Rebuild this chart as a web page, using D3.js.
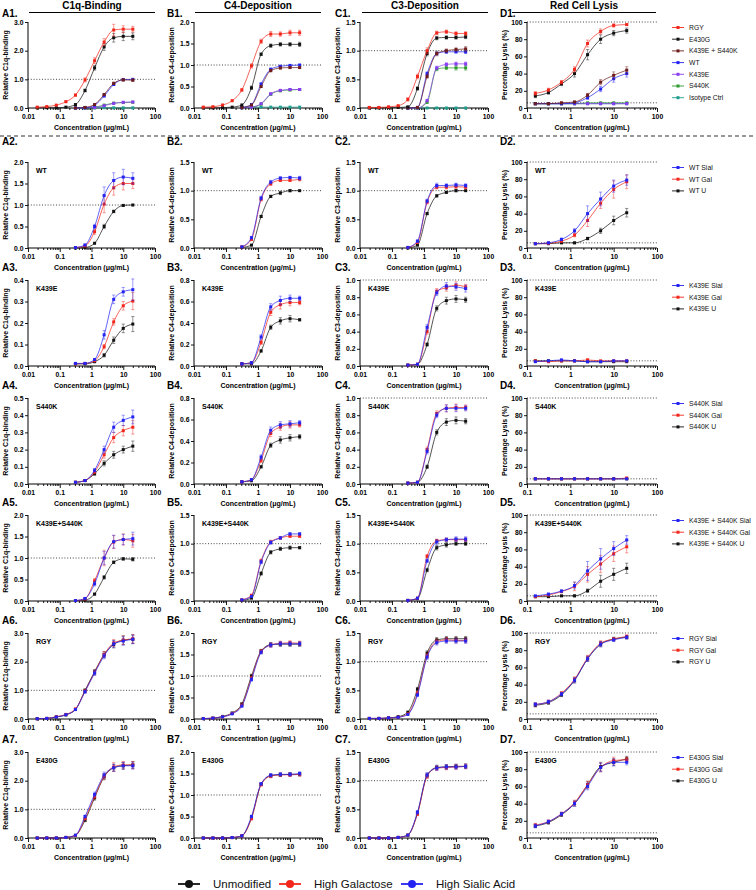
<!DOCTYPE html>
<html><head><meta charset="utf-8">
<script src="https://cdn.jsdelivr.net/npm/d3@7"></script>
<style>body{margin:0;background:#fff} svg{display:block} text{font-family:"Liberation Sans",Arial,sans-serif}</style>
</head><body><svg id="c" width="756" height="890"></svg>
<script>
// ---------- concentrations (µg/mL) ----------
const conc11 = [0.0195,0.039,0.078,0.156,0.3125,0.625,1.25,2.5,5,10,20];
const conc8  = [0.156,0.3125,0.625,1.25,2.5,5,10,20];
const conc7  = [0.3125,0.625,1.25,2.5,5,10,20];

// ---------- text ----------
const headers = ["C1q-Binding","C4-Deposition","C3-Deposition","Red Cell Lysis"];
const yTitles = ["Relative C1q-binding","Relative C4-deposition","Relative C3-deposition","Percentage Lysis (%)"];
const xTitle = "Concentration (\u03bcg/mL)";
const colLetters = ["A","B","C","D"];
const xTickLabels = {0.01:"0.01",0.1:"0.1",1:"1",10:"10",100:"100"};

// ---------- row 1 (all variants) ----------
const row1Names = ["RGY","E430G","K439E + S440K","WT","K439E","S440K","Isotype Ctrl"];
// values as [mean, error]
const A1_RGY = [[0.03,0.01],[0.05,0.01],[0.1,0.02],[0.22,0.03],[0.45,0.04],[0.98,0.07],[1.65,0.1],[2.3,0.12],[2.72,0.2],[2.75,0.12],[2.75,0.1]];
const A1_E430G = [[0,0.005],[0.01,0.005],[0.01,0.005],[0.03,0.01],[0.12,0.02],[0.61,0.05],[1.4,0.08],[2.13,0.12],[2.45,0.15],[2.5,0.15],[2.5,0.12]];
const A1_KESK = [[0,0.005],[0.02,0.01],[0.12,0.02],[0.47,0.04],[0.86,0.04],[0.98,0.04],[0.97,0.04]];
const A1_WT = [[0,0.005],[0.01,0.005],[0.1,0.02],[0.42,0.03],[0.82,0.03],[0.99,0.03],[1.0,0.02]];
const A1_K439E = [[0,0.003],[0.005,0.003],[0.02,0.005],[0.08,0.01],[0.16,0.02],[0.2,0.02],[0.21,0.02]];
const A1_S440K = [[0,0.003],[0.005,0.003],[0.03,0.005],[0.1,0.01],[0.17,0.02],[0.19,0.02],[0.2,0.02]];
const A1_Iso = [[0,0],[0,0],[0,0],[0.01,0.003],[0.005,0.003],[0.005,0.003],[0.005,0.003]];

const B1_RGY = [[0.02,0.01],[0.03,0.01],[0.07,0.01],[0.17,0.02],[0.42,0.03],[0.98,0.05],[1.55,0.05],[1.72,0.06],[1.72,0.05],[1.75,0.06],[1.75,0.06]];
const B1_E430G = [[0,0.005],[0,0.005],[0.01,0.005],[0.02,0.01],[0.07,0.01],[0.47,0.04],[1.25,0.03],[1.45,0.04],[1.48,0.04],[1.48,0.04],[1.48,0.05]];
const B1_KESK = [[0.01,0.005],[0.07,0.01],[0.5,0.02],[0.87,0.03],[0.93,0.02],[0.94,0.02],[0.94,0.02]];
const B1_WT = [[0.01,0.005],[0.08,0.01],[0.56,0.02],[0.9,0.03],[0.97,0.02],[0.99,0.02],[1.0,0.01]];
const B1_K439E = [[0.005,0.003],[0.02,0.005],[0.1,0.01],[0.33,0.02],[0.41,0.02],[0.43,0.02],[0.43,0.02]];
const B1_S440K = [[0.005,0.003],[0.02,0.005],[0.09,0.01],[0.32,0.02],[0.4,0.02],[0.42,0.02],[0.43,0.02]];
const B1_Iso = [[0.02,0],[0.02,0],[0.02,0],[0.02,0],[0.02,0],[0.02,0],[0.02,0]];

const C1_RGY = [[0.01,0],[0.01,0],[0.02,0.005],[0.04,0.01],[0.15,0.03],[0.55,0.04],[1.0,0.05],[1.31,0.03],[1.33,0.03],[1.3,0.03],[1.3,0.03]];
const C1_E430G = [[0,0],[0,0],[0.01,0],[0.01,0.005],[0.02,0.01],[0.34,0.03],[0.95,0.04],[1.22,0.03],[1.23,0.03],[1.23,0.03],[1.24,0.03]];
const C1_KESK = [[0,0],[0.01,0.005],[0.55,0.03],[0.95,0.04],[1.0,0.03],[1.02,0.03],[1.03,0.04]];
const C1_WT = [[0,0],[0.01,0.005],[0.6,0.03],[0.95,0.03],[0.98,0.03],[0.98,0.02],[0.98,0.03]];
const C1_K439E = [[0,0],[0,0],[0.13,0.02],[0.7,0.03],[0.76,0.03],[0.77,0.03],[0.77,0.03]];
const C1_S440K = [[0,0],[0,0],[0.1,0.02],[0.68,0.03],[0.7,0.03],[0.7,0.04],[0.7,0.04]];
const C1_Iso = [[0,0],[0,0],[0,0],[0,0],[0,0],[0,0],[0,0]];

const D1_RGY = [[17,2],[21,2],[30,2],[45,3],[75,4],[89,3],[96,2],[97,1]];
const D1_E430G = [[14,2],[18,2],[28,2],[40,4],[62,6],[80,5],[87,3],[90,3]];
const D1_KESK = [[5,1],[5,1],[6,1],[7,1],[15,2],[30,3],[38,4],[44,4]];
const D1_WT = [[5,1],[5,1],[5,1],[6,1],[12,2],[22,3],[34,4],[40,4]];
const D1_K439E = [[5,0.5],[5,0.5],[5,0.5],[5,0.5],[5,0.5],[5,0.5],[5,0.5],[5,0.5]];
const D1_S440K = [[5,0.5],[5,0.5],[5,0.5],[5,0.5],[6,0.5],[6,0.5],[6,0.5],[6,0.5]];
const D1_Iso = [[5,0.3],[5,0.3],[5,0.3],[5,0.3],[5,0.3],[5,0.3],[5,0.3],[5,0.3]];

// ---------- rows 2-7 (glycoforms) ----------
const variants = ["WT","K439E","S440K","K439E+S440K","RGY","E430G"];
const legendVariants = ["WT","K439E","S440K","K439E + S440K","RGY","E430G"];
const glycoSuffix = ["Sial","Gal","U"];
const glycoNames = ["Unmodified","High Galactose","High Sialic Acid"];

// WT
const A2_Sial = [[0.01,0.01],[0.07,0.02],[0.5,0.05],[1.22,0.2],[1.57,0.18],[1.65,0.18],[1.62,0.13]];
const A2_Gal  = [[0.01,0.01],[0.05,0.02],[0.38,0.06],[1.02,0.2],[1.4,0.17],[1.5,0.15],[1.5,0.12]];
const A2_U    = [[0,0.005],[0.01,0.005],[0.11,0.01],[0.5,0.05],[0.85,0.03],[0.99,0.02],[1.0,0.01]];
const B2_Sial = [[0.02,0.01],[0.18,0.02],[0.87,0.03],[1.15,0.03],[1.22,0.02],[1.23,0.02],[1.22,0.03]];
const B2_Gal  = [[0.02,0.01],[0.15,0.02],[0.85,0.03],[1.12,0.03],[1.18,0.02],[1.18,0.02],[1.2,0.03]];
const B2_U    = [[0.01,0.005],[0.05,0.01],[0.55,0.02],[0.9,0.02],[0.96,0.03],[1.0,0.02],[1.0,0.01]];
const C2_Sial = [[0.01,0.005],[0.12,0.02],[0.82,0.03],[1.09,0.04],[1.09,0.03],[1.1,0.03],[1.09,0.03]];
const C2_Gal  = [[0.01,0.005],[0.1,0.02],[0.8,0.03],[1.06,0.03],[1.06,0.03],[1.07,0.03],[1.06,0.03]];
const C2_U    = [[0,0.005],[0.05,0.01],[0.6,0.02],[0.91,0.02],[0.97,0.02],[1.0,0.02],[1.0,0.01]];
const D2_Sial = [[5,0.5],[6,1],[10,1.5],[20,2.5],[40,9],[57,8],[72,7],[79,6]];
const D2_Gal  = [[5,0.5],[5.5,1],[8,1],[15,2],[32,7],[52,6],[68,10],[77,8]];
const D2_U    = [[5,0.5],[5,0.5],[6,0.5],[6,1],[11,1.5],[20,3],[32,5],[41,5]];
// K439E
const A3_Sial = [[0.012,0.003],[0.012,0.003],[0.03,0.005],[0.145,0.02],[0.31,0.02],[0.345,0.02],[0.355,0.05]];
const A3_Gal  = [[0.01,0.003],[0.012,0.003],[0.025,0.005],[0.09,0.01],[0.205,0.015],[0.28,0.02],[0.302,0.04]];
const A3_U    = [[0.01,0.003],[0.01,0.003],[0.02,0.004],[0.05,0.008],[0.12,0.015],[0.175,0.02],[0.195,0.035]];
const B3_Sial = [[0.02,0.01],[0.03,0.01],[0.27,0.02],[0.55,0.03],[0.61,0.04],[0.63,0.03],[0.63,0.02]];
const B3_Gal  = [[0.02,0.01],[0.03,0.01],[0.22,0.02],[0.5,0.03],[0.57,0.04],[0.59,0.03],[0.59,0.02]];
const B3_U    = [[0.02,0.005],[0.02,0.005],[0.14,0.01],[0.36,0.02],[0.42,0.03],[0.44,0.03],[0.43,0.01]];
const C3_Sial = [[0.01,0.005],[0.02,0.005],[0.45,0.03],[0.85,0.03],[0.93,0.04],[0.92,0.04],[0.9,0.04]];
const C3_Gal  = [[0.01,0.005],[0.02,0.005],[0.4,0.03],[0.87,0.03],[0.91,0.04],[0.94,0.04],[0.92,0.03]];
const C3_U    = [[0.01,0.005],[0.02,0.005],[0.25,0.02],[0.67,0.03],[0.76,0.04],[0.78,0.04],[0.77,0.03]];
const D3_Sial = [[5,0.5],[6,0.5],[7,1],[6,0.5],[5,0.5],[5,0.5],[6,0.5],[6,0.5]];
const D3_Gal  = [[6,0.5],[5,0.5],[6,1],[6,0.5],[7,1.5],[6,0.5],[6,0.5],[6,0.5]];
const D3_U    = [[6,0.5],[6,0.5],[6,0.5],[6,0.5],[5,0.5],[5,0.5],[5,0.5],[5,0.5]];
// S440K
const A4_Sial = [[0.01,0.003],[0.02,0.005],[0.08,0.01],[0.2,0.02],[0.33,0.03],[0.37,0.03],[0.39,0.04]];
const A4_Gal  = [[0.01,0.003],[0.02,0.005],[0.07,0.01],[0.17,0.02],[0.27,0.03],[0.31,0.03],[0.33,0.04]];
const A4_U    = [[0.01,0.003],[0.02,0.005],[0.06,0.01],[0.12,0.015],[0.17,0.02],[0.2,0.02],[0.22,0.03]];
const B4_Sial = [[0.02,0.01],[0.04,0.01],[0.25,0.02],[0.5,0.03],[0.55,0.03],[0.56,0.03],[0.57,0.02]];
const B4_Gal  = [[0.02,0.01],[0.04,0.01],[0.22,0.02],[0.47,0.03],[0.53,0.03],[0.55,0.03],[0.55,0.02]];
const B4_U    = [[0.02,0.005],[0.03,0.005],[0.16,0.01],[0.36,0.02],[0.41,0.03],[0.43,0.03],[0.44,0.02]];
const C4_Sial = [[0.01,0.005],[0.02,0.005],[0.38,0.03],[0.8,0.03],[0.88,0.04],[0.88,0.04],[0.88,0.03]];
const C4_Gal  = [[0.01,0.005],[0.02,0.005],[0.4,0.03],[0.82,0.03],[0.88,0.04],[0.89,0.04],[0.89,0.03]];
const C4_U    = [[0.01,0.005],[0.02,0.005],[0.2,0.02],[0.6,0.03],[0.72,0.04],[0.74,0.04],[0.73,0.03]];
const D4_Sial = [[6,0.5],[6,0.5],[6,0.5],[6,0.5],[6,0.5],[6,0.5],[6,0.5],[6,0.5]];
const D4_Gal  = [[6,0.5],[6,0.5],[6,0.5],[6,0.5],[6,0.5],[6,0.5],[6,0.5],[7,0.5]];
const D4_U    = [[6,0.5],[6,0.5],[6,0.5],[6,0.5],[6,0.5],[6,0.5],[6,0.5],[6,0.5]];
// K439E+S440K
const A5_Sial = [[0.01,0.01],[0.06,0.02],[0.4,0.05],[1.0,0.15],[1.38,0.15],[1.43,0.12],[1.45,0.15]];
const A5_Gal  = [[0.01,0.01],[0.05,0.02],[0.47,0.05],[1.0,0.18],[1.37,0.15],[1.43,0.13],[1.4,0.15]];
const A5_U    = [[0.01,0.005],[0.02,0.005],[0.16,0.02],[0.55,0.04],[0.9,0.03],[0.98,0.03],[0.97,0.04]];
const B5_Sial = [[0.02,0.01],[0.08,0.01],[0.68,0.03],[1.02,0.03],[1.1,0.02],[1.17,0.02],[1.17,0.02]];
const B5_Gal  = [[0.02,0.01],[0.1,0.01],[0.7,0.03],[1.03,0.03],[1.1,0.02],[1.13,0.02],[1.13,0.02]];
const B5_U    = [[0.01,0.005],[0.05,0.01],[0.48,0.03],[0.85,0.03],[0.91,0.03],[0.93,0.03],[0.93,0.02]];
const C5_Sial = [[0.01,0.005],[0.05,0.01],[0.7,0.03],[1.03,0.04],[1.07,0.03],[1.08,0.04],[1.08,0.04]];
const C5_Gal  = [[0.01,0.005],[0.05,0.01],[0.78,0.03],[1.05,0.03],[1.07,0.03],[1.07,0.03],[1.07,0.03]];
const C5_U    = [[0.01,0.005],[0.04,0.01],[0.54,0.03],[0.93,0.04],[0.98,0.04],[1.0,0.03],[1.0,0.03]];
const D5_Sial = [[6,0.5],[8,1],[11.5,1.5],[18,4],[35,11],[49,12],[61,8],[71,5]];
const D5_Gal  = [[5,0.5],[7,1],[11,1.5],[17,5],[31,9],[43,10],[55,9],[63,7]];
const D5_U    = [[5,0.5],[5,0.5],[6,0.5],[6,1],[12,2],[23,7],[31,7],[38,6]];
// RGY
const A6_Sial = [[0.01,0.005],[0.02,0.005],[0.07,0.01],[0.15,0.02],[0.33,0.03],[0.95,0.05],[1.6,0.08],[2.2,0.1],[2.62,0.12],[2.72,0.15],[2.78,0.15]];
const A6_Gal  = [[0.01,0.005],[0.02,0.005],[0.08,0.01],[0.16,0.02],[0.35,0.03],[0.97,0.05],[1.62,0.08],[2.25,0.1],[2.65,0.12],[2.75,0.15],[2.8,0.15]];
const A6_U    = [[0.01,0.005],[0.02,0.005],[0.07,0.01],[0.14,0.02],[0.33,0.03],[1.0,0.05],[1.65,0.08],[2.25,0.1],[2.6,0.12],[2.75,0.15],[2.78,0.15]];
const B6_Sial = [[0.01,0.005],[0.02,0.005],[0.05,0.01],[0.12,0.01],[0.3,0.02],[0.92,0.04],[1.55,0.04],[1.72,0.05],[1.75,0.05],[1.75,0.05],[1.75,0.05]];
const B6_Gal  = [[0.01,0.005],[0.02,0.005],[0.05,0.01],[0.13,0.01],[0.32,0.02],[0.95,0.04],[1.57,0.04],[1.72,0.05],[1.76,0.05],[1.77,0.05],[1.76,0.05]];
const B6_U    = [[0.01,0.005],[0.02,0.005],[0.06,0.01],[0.14,0.01],[0.35,0.02],[1.0,0.04],[1.58,0.04],[1.73,0.05],[1.74,0.05],[1.74,0.05],[1.74,0.05]];
const C6_Sial = [[0.01,0.005],[0.01,0.005],[0.02,0.005],[0.03,0.005],[0.08,0.01],[0.42,0.03],[1.08,0.04],[1.33,0.04],[1.36,0.04],[1.36,0.04],[1.36,0.04]];
const C6_Gal  = [[0.01,0.005],[0.01,0.005],[0.02,0.005],[0.03,0.005],[0.09,0.01],[0.45,0.03],[1.1,0.04],[1.35,0.04],[1.38,0.04],[1.37,0.04],[1.37,0.04]];
const C6_U    = [[0.01,0.005],[0.01,0.005],[0.02,0.005],[0.04,0.005],[0.12,0.01],[0.52,0.03],[1.15,0.04],[1.38,0.04],[1.4,0.04],[1.4,0.04],[1.4,0.04]];
const D6_Sial = [[17,2],[20,2],[29,2],[45,3],[70,3],[87,3],[92,2],[95,2]];
const D6_Gal  = [[17,2],[20,2],[30,2],[46,3],[71,3],[88,3],[93,2],[96,2]];
const D6_U    = [[16,2],[19,2],[28,2],[45,3],[70,3],[87,3],[93,2],[95,2]];
// E430G
const A7_Sial = [[0,0.005],[0,0.005],[0,0.005],[0.02,0.005],[0.1,0.02],[0.75,0.05],[1.52,0.08],[2.2,0.1],[2.45,0.12],[2.52,0.12],[2.52,0.12]];
const A7_Gal  = [[0,0.005],[0,0.005],[0,0.005],[0.02,0.005],[0.09,0.02],[0.68,0.05],[1.45,0.08],[2.15,0.1],[2.48,0.15],[2.55,0.12],[2.55,0.12]];
const A7_U    = [[0,0.005],[0,0.005],[0,0.005],[0.02,0.005],[0.09,0.02],[0.62,0.05],[1.4,0.08],[2.13,0.1],[2.45,0.12],[2.52,0.12],[2.55,0.12]];
const B7_Sial = [[0,0.005],[0,0.005],[0,0.005],[0.01,0.005],[0.05,0.01],[0.5,0.03],[1.26,0.03],[1.46,0.04],[1.48,0.04],[1.48,0.04],[1.5,0.04]];
const B7_Gal  = [[0,0.005],[0,0.005],[0,0.005],[0.01,0.005],[0.05,0.01],[0.45,0.03],[1.24,0.03],[1.44,0.04],[1.47,0.04],[1.47,0.04],[1.48,0.04]];
const B7_U    = [[0,0.005],[0,0.005],[0,0.005],[0.01,0.005],[0.05,0.01],[0.47,0.03],[1.25,0.03],[1.45,0.04],[1.47,0.04],[1.48,0.04],[1.48,0.04]];
const C7_Sial = [[0,0.005],[0,0.005],[0,0.005],[0.01,0.005],[0.05,0.01],[0.45,0.03],[1.1,0.04],[1.22,0.04],[1.24,0.04],[1.24,0.04],[1.25,0.04]];
const C7_Gal  = [[0,0.005],[0,0.005],[0,0.005],[0.01,0.005],[0.05,0.01],[0.42,0.03],[1.08,0.04],[1.22,0.04],[1.23,0.04],[1.24,0.04],[1.25,0.04]];
const C7_U    = [[0,0.005],[0,0.005],[0,0.005],[0.01,0.005],[0.05,0.01],[0.43,0.03],[1.09,0.04],[1.23,0.04],[1.24,0.04],[1.25,0.04],[1.25,0.04]];
const D7_Sial = [[14,2],[19,2],[28,2],[40,3],[60,4],[82,5],[88,4],[88,3]];
const D7_Gal  = [[15,2],[19,2],[28,2],[41,3],[62,4],[82,5],[90,4],[91,3]];
const D7_U    = [[14,2],[18,2],[27,2],[40,3],[62,4],[83,5],[88,4],[92,3]];

// y-axis maxima per row (A,B,C,D)
const yMaxes = [[3,2,1.5,100],[2,1.5,1.5,100],[0.4,0.8,1.0,100],[0.5,0.8,1.0,100],[2,1.5,1.5,100],[3,2,1.5,100],[3,2,1.5,100]];
const yStep = {3:1, 2:0.5, 1.5:0.5, 0.4:0.1, 0.5:0.1, 0.8:0.2, 1:0.2, 100:20};

// ---------- styling / layout ----------
const colLeft = [28,194,360,527], colRight = [155,322,488,657];
const rowTop = [22,162,280,398,515,633,752], PH = 86;
const xDomains = [[0.01,100],[0.01,100],[0.01,100],[0.1,100]];
const cBlack = "#111111", cRed = "#f2261b", cBlue = "#2424f2";
const row1Colors = ["#f2261b","#111111","#6e1d1d","#2424f2","#8a3cf5","#2c9a2c","#1f9e8e"];
const glycoColors = [cBlue, cRed, cBlack]; // Sial, Gal, U
const FONT = '"Liberation Sans", Arial, sans-serif';

const svg = d3.select("#c");

function drawPanel(r, c, seriesList) {
  const x = d3.scaleLog().domain(xDomains[c]).range([colLeft[c], colRight[c]]);
  const yMax = yMaxes[r][c];
  const y = d3.scaleLinear().domain([0, yMax]).range([rowTop[r] + PH, rowTop[r]]);
  const g = svg.append("g");
  const refs = c === 3 ? [100, 6] : (yMax >= 1 ? [1] : []);
  refs.forEach(v => {
    g.append("line").attr("x1", colLeft[c]).attr("x2", colRight[c])
      .attr("y1", y(v)).attr("y2", y(v))
      .attr("stroke", "#333").attr("stroke-width", 0.9).attr("stroke-dasharray", "1,1.8");
  });
  const step = yStep[yMax];
  const yt = d3.range(0, yMax + step / 2, step);
  const fmt = yMax === 100 ? d3.format("d") : d3.format(".1f");
  const ya = g.append("g").attr("transform", `translate(${colLeft[c]},0)`)
    .call(d3.axisLeft(y).tickValues(yt).tickFormat(fmt).tickSize(3).tickPadding(1.5));
  const decades = c === 3 ? [0.1,1,10,100] : [0.01,0.1,1,10,100];
  const minors = [];
  for (let i = 0; i < decades.length - 1; i++) for (let k = 2; k <= 9; k++) minors.push(decades[i] * k);
  const xa = g.append("g").attr("transform", `translate(0,${rowTop[r] + PH})`)
    .call(d3.axisBottom(x).tickValues(decades).tickFormat(d => xTickLabels[d]).tickSize(4).tickPadding(2));
  const xm = g.append("g").attr("transform", `translate(0,${rowTop[r] + PH})`)
    .call(d3.axisBottom(x).tickValues(minors).tickFormat("").tickSize(2));
  [ya, xa, xm].forEach(a => {
    a.selectAll(".domain").attr("stroke", "#000").attr("stroke-width", 1);
    a.selectAll(".tick line").attr("stroke", "#000").attr("stroke-width", 0.9);
    a.selectAll("text").attr("font-family", FONT).attr("font-size", 6.8).attr("font-weight", "bold").attr("fill", "#000");
  });
  xm.select(".domain").remove();
  ya.select(".domain").attr("d", `M0,${rowTop[r] + PH}V${rowTop[r]}`);
  xa.select(".domain").attr("d", `M${colLeft[c]},0H${colRight[c]}`);
  g.append("text").attr("transform", `translate(${colLeft[c] - 20},${rowTop[r] + PH / 2}) rotate(-90)`)
    .attr("text-anchor", "middle").attr("font-size", 7).attr("font-weight", "bold").text(yTitles[c]);
  g.append("text").attr("x", (colLeft[c] + colRight[c]) / 2).attr("y", rowTop[r] + PH + 21.5)
    .attr("text-anchor", "middle").attr("font-size", 7).attr("font-weight", "bold").text(xTitle);
  const line = d3.line().curve(d3.curveMonotoneX);
  seriesList.forEach(s => {
    const pts = s.vals.map((v, i) => [x(s.conc[i]), y(v[0]), y(v[0] - v[1]), y(v[0] + v[1])]);
    g.append("path").attr("d", line(pts.map(p => [p[0], p[1]])))
      .attr("fill", "none").attr("stroke", s.color).attr("stroke-width", 0.85).attr("stroke-opacity", 0.85);
    const eb = g.append("g").attr("stroke", s.color).attr("stroke-opacity", 0.55).attr("stroke-width", 0.8);
    pts.forEach(p => {
      if (Math.abs(p[2] - p[3]) < 1.2) return;
      eb.append("line").attr("x1", p[0]).attr("x2", p[0]).attr("y1", p[2]).attr("y2", p[3]);
      eb.append("line").attr("x1", p[0] - 1.6).attr("x2", p[0] + 1.6).attr("y1", p[2]).attr("y2", p[2]);
      eb.append("line").attr("x1", p[0] - 1.6).attr("x2", p[0] + 1.6).attr("y1", p[3]).attr("y2", p[3]);
    });
    g.append("g").selectAll("rect").data(pts).join("rect")
      .attr("x", p => p[0] - 1.5).attr("y", p => p[1] - 1.5).attr("width", 3).attr("height", 3)
      .attr("fill", s.color);
  });
  return g;
}

function addLegend(r, names, colors) {
  const g = svg.append("g");
  names.forEach((n, i) => {
    const yy = rowTop[r] + 5.5 + i * 11.7;
    g.append("line").attr("x1", 672).attr("x2", 684).attr("y1", yy).attr("y2", yy).attr("stroke", colors[i]).attr("stroke-width", 0.9);
    g.append("rect").attr("x", 676.5).attr("y", yy - 1.5).attr("width", 3).attr("height", 3).attr("fill", colors[i]);
    g.append("text").attr("x", 689).attr("y", yy + 2.4).attr("font-size", 6.8).attr("fill", "#111").text(n);
  });
}

// ---------- headers ----------
const hdrLine = [[29,155],[195,321],[362,488],[512,656]];
headers.forEach((h, c) => {
  svg.append("text").attr("x", (hdrLine[c][0] + hdrLine[c][1]) / 2).attr("y", 8.5).attr("text-anchor", "middle")
    .attr("font-size", 10).attr("font-weight", "bold").text(h);
  svg.append("line").attr("x1", hdrLine[c][0]).attr("x2", hdrLine[c][1]).attr("y1", 12.5).attr("y2", 12.5)
    .attr("stroke", "#000").attr("stroke-width", 1.2);
});
svg.append("line").attr("x1", 0).attr("x2", 756).attr("y1", 136).attr("y2", 136)
  .attr("stroke", "#333").attr("stroke-width", 1.2).attr("stroke-dasharray", "4,3");

const labelX = [2, 167, 335, 500];
const labelY = [16.5, 145, 271, 389, 506, 624, 743];
for (let r = 0; r < 7; r++) for (let c = 0; c < 4; c++) {
  svg.append("text").attr("x", labelX[c]).attr("y", labelY[r]).attr("font-size", 10).attr("font-weight", "bold")
    .text(colLetters[c] + (r + 1) + ".");
}

// ---------- row 1 ----------
const row1Data = [
  [A1_RGY,A1_E430G,A1_KESK,A1_WT,A1_K439E,A1_S440K,A1_Iso],
  [B1_RGY,B1_E430G,B1_KESK,B1_WT,B1_K439E,B1_S440K,B1_Iso],
  [C1_RGY,C1_E430G,C1_KESK,C1_WT,C1_K439E,C1_S440K,C1_Iso],
  [D1_RGY,D1_E430G,D1_KESK,D1_WT,D1_K439E,D1_S440K,D1_Iso]
];
row1Data.forEach((arrs, c) => {
  const list = arrs.map((vals, i) => ({
    vals, color: row1Colors[i],
    conc: c === 3 ? conc8 : (vals.length === 11 ? conc11 : conc7)
  })).reverse();
  drawPanel(0, c, list);
});
addLegend(0, row1Names, row1Colors);

// ---------- rows 2-7 ----------
const glycoData = [
  [[A2_U,A2_Gal,A2_Sial],[B2_U,B2_Gal,B2_Sial],[C2_U,C2_Gal,C2_Sial],[D2_U,D2_Gal,D2_Sial]],
  [[A3_U,A3_Gal,A3_Sial],[B3_U,B3_Gal,B3_Sial],[C3_U,C3_Gal,C3_Sial],[D3_U,D3_Gal,D3_Sial]],
  [[A4_U,A4_Gal,A4_Sial],[B4_U,B4_Gal,B4_Sial],[C4_U,C4_Gal,C4_Sial],[D4_U,D4_Gal,D4_Sial]],
  [[A5_U,A5_Gal,A5_Sial],[B5_U,B5_Gal,B5_Sial],[C5_U,C5_Gal,C5_Sial],[D5_U,D5_Gal,D5_Sial]],
  [[A6_U,A6_Gal,A6_Sial],[B6_U,B6_Gal,B6_Sial],[C6_U,C6_Gal,C6_Sial],[D6_U,D6_Gal,D6_Sial]],
  [[A7_U,A7_Gal,A7_Sial],[B7_U,B7_Gal,B7_Sial],[C7_U,C7_Gal,C7_Sial],[D7_U,D7_Gal,D7_Sial]]
];
const drawColors = [cBlack, cRed, cBlue];
glycoData.forEach((row, k) => {
  const r = k + 1;
  row.forEach((arrs, c) => {
    const list = arrs.map((vals, i) => ({
      vals, color: drawColors[i],
      conc: c === 3 ? conc8 : (vals.length === 11 ? conc11 : conc7)
    }));
    drawPanel(r, c, list);
    svg.append("text").attr("x", colLeft[c] + 8).attr("y", rowTop[r] + 10.5)
      .attr("font-size", 7).attr("font-weight", "bold").text(variants[k]);
  });
  addLegend(r, glycoSuffix.map(s => legendVariants[k] + " " + s), glycoColors);
});

// ---------- bottom legend ----------
const bl = svg.append("g");
const blX = [189, 290, 412];
[cBlack, cRed, cBlue].forEach((col, i) => {
  bl.append("line").attr("x1", blX[i] - 11).attr("x2", blX[i] + 11).attr("y1", 884).attr("y2", 884).attr("stroke", col).attr("stroke-width", 1.8);
  bl.append("circle").attr("cx", blX[i]).attr("cy", 884).attr("r", 4).attr("fill", col);
  bl.append("text").attr("x", blX[i] + 24).attr("y", 888).attr("font-size", 11.5).attr("fill", "#111").text(glycoNames[i]);
});
</script></body></html>
